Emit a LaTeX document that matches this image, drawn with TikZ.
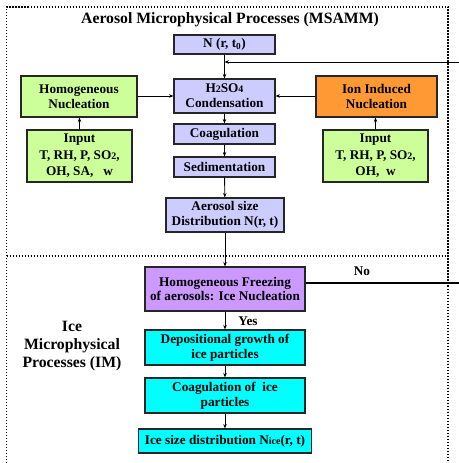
\documentclass[tikz,border=0pt]{standalone}
\usepackage{fontspec}
\setmainfont{Liberation Serif}
\usetikzlibrary{arrows.meta}
\definecolor{lav}{HTML}{CCCCFF}
\definecolor{lgreen}{HTML}{CCFF99}
\definecolor{orng}{HTML}{FF9933}
\definecolor{purp}{HTML}{CC99FF}
\definecolor{cyn}{HTML}{00FFFF}
\newcommand{\sm}[1]{{\fontsize{10}{10}\selectfont #1}}
\begin{document}
\begin{tikzpicture}[x=1bp,y=-1bp,
  box/.style={draw=black!85, line width=1.1bp, inner sep=0pt, align=center,
    font=\fontsize{13.3}{15}\selectfont\bfseries},
  big/.style={inner sep=0pt, align=center, font=\fontsize{15.8}{18.5}\selectfont\bfseries},
  lbl/.style={inner sep=0pt, font=\fontsize{13.3}{15}\selectfont\bfseries},
  arr/.style={line width=0.9bp, -{Stealth[length=4.5bp,width=3.5bp]}},
  ln/.style={line width=1.2bp},
  dots/.style={line width=1.3bp, dash pattern=on 1.3bp off 1.7bp}]
\useasboundingbox (0,0) rectangle (459,463);
% dotted frames
\draw[dots] (6.5,463) -- (6.5,7) -- (448,7) -- (448,463);
\draw[dots] (6.5,256) -- (448,256);
\node[big] (title) at (230,20) {Aerosol Microphysical Processes (MSAMM)};
% upper nodes
\node[box, fill=lav, minimum width=101bp, minimum height=19bp] (N) at (224.5,44.5) {N (r, t\textsubscript{0})};
\node[box, fill=lav, minimum width=101bp, minimum height=34bp] (h2) at (224.5,96) {H\sm{2}SO\sm{4}\\Condensation};
\node[box, fill=lgreen, minimum width=116bp, minimum height=41bp] (hom) at (79,96.5) {Homogeneous\\Nucleation};
\node[box, fill=orng, minimum width=121bp, minimum height=41bp] (ion) at (376.5,96.5) {Ion Induced\\Nucleation};
\node[box, fill=lgreen, minimum width=105bp, minimum height=52bp, font=\fontsize{13.3}{16.5}\selectfont\bfseries] (inL) at (79.5,156) {Input\\T, RH, P, SO\sm{2},\\OH, SA,\ \ \ w};
\node[box, fill=lgreen, minimum width=105bp, minimum height=52bp, font=\fontsize{13.3}{16.5}\selectfont\bfseries] (inR) at (375.5,156) {Input\\T, RH, P, SO\sm{2},\\OH,\ \ w};
\node[box, fill=lav, minimum width=101bp, minimum height=20bp] (coag) at (224.5,134) {Coagulation};
\node[box, fill=lav, minimum width=101bp, minimum height=20bp] (sed) at (224.5,167) {Sedimentation};
\node[box, fill=lav, minimum width=118bp, minimum height=34bp] (aero) at (225,215) {Aerosol size\\Distribution N(r, t)};
% lower nodes
\node[big] (im) at (72,346) {Ice\\Microphysical\\Processes (IM)};
\node[box, fill=purp, minimum width=160bp, minimum height=44bp] (frz) at (225,289) {Homogeneous Freezing\\of aerosols: Ice Nucleation};
\node[box, fill=cyn, minimum width=160bp, minimum height=35bp] (dep) at (225,347.5) {Depositional growth of\\ice particles};
\node[box, fill=cyn, minimum width=160bp, minimum height=35bp] (cice) at (225,395.5) {Coagulation of\ \ ice\\particles};
\node[box, fill=cyn, minimum width=173bp, minimum height=24bp] (isd) at (225,441) {Ice size distribution N\sm{ice}(r, t)};
\node[lbl] (no) at (362,271) {No};
\node[lbl] (yes) at (248,321) {Yes};
% connectors
\coordinate (fbR) at (459,62);
\coordinate (noR) at (459,283);
\draw[arr] (N) -- (h2);
\draw[arr] (fbR) -- (fbR -| N.south);
\draw[arr] (hom.east |- h2.west) -- (h2.west);
\draw[arr] (ion.west |- h2.east) -- (h2.east);
\draw[arr] (inL.north) -- (inL.north |- hom.south);
\draw[arr] (inR.north) -- (inR.north |- ion.south);
\draw[arr] (h2) -- (coag);
\draw[arr] (coag) -- (sed);
\draw[arr] (sed) -- (aero);
\draw[arr] (aero) -- (frz);
\draw[ln] (frz.east |- noR) -- (noR);
\draw[arr] (frz) -- (dep);
\draw[arr] (dep) -- (cice);
\draw[arr] (cice) -- (isd);
\end{tikzpicture}
\end{document}
